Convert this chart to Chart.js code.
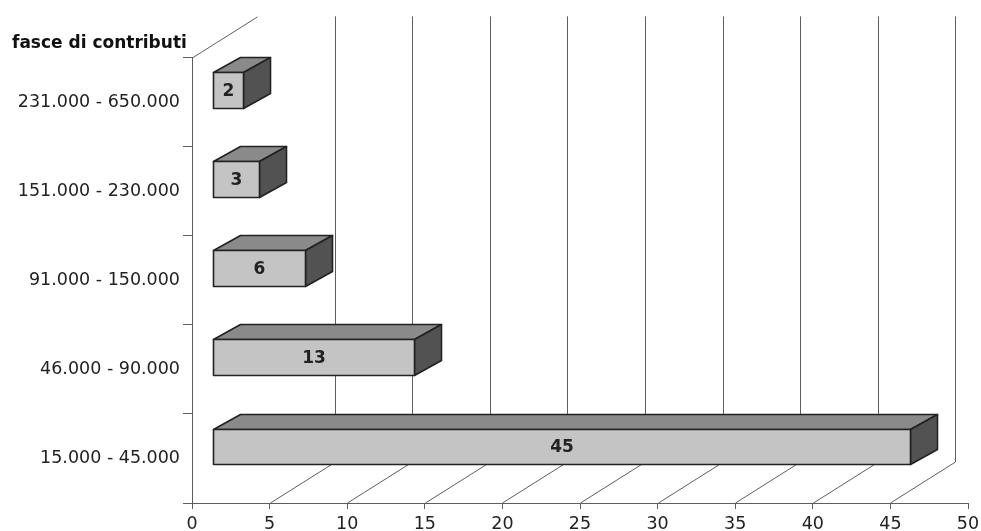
<!DOCTYPE html>
<html><head><meta charset="utf-8">
<script src="https://cdn.jsdelivr.net/npm/chart.js@4.4.1/dist/chart.umd.min.js"></script>
<style>html,body{margin:0;padding:0;background:#fff}</style>
</head><body>
<canvas id="c" width="981" height="531"></canvas>
<script>
// ---- data ----
const categories = ['231.000 - 650.000', '151.000 - 230.000', '91.000 - 150.000', '46.000 - 90.000', '15.000 - 45.000'];
const values = [2, 3, 6, 13, 45];
const xMin = 0, xMax = 50, xStep = 5;
const axisTitle = 'fasce di contributi';

// ---- 3D look ----
const WALL_DX = 65, WALL_DY = 41;      // depth of the floor / wall
const BAR_OFF_X = 20, BAR_OFF_Y = 12;  // where the bar front face sits in depth
const BAR_DX = 27, BAR_DY = 15;        // bar depth
const FRONT = '#c4c4c4', TOP = '#8a8a8a', SIDE = '#525252', EDGE = '#222222';
const GRID = '#5e5e5e';
const FONT = 'DejaVu Sans, Verdana, sans-serif';

const threeD = {
  id: 'threeD',
  beforeDatasetsDraw(chart) {
    const ctx = chart.ctx, xs = chart.scales.x, a = chart.chartArea;
    ctx.save();
    ctx.strokeStyle = GRID; ctx.lineWidth = 1;
    // left wall top edge
    ctx.beginPath();
    ctx.moveTo(a.left + 0.5, a.top + 0.5);
    ctx.lineTo(a.left + WALL_DX + 0.5, a.top - WALL_DY + 0.5);
    ctx.stroke();
    for (let v = xMin + xStep; v < xMax; v += xStep) {
      const x = Math.round(xs.getPixelForValue(v)) + 0.5;
      ctx.beginPath();
      // floor line
      ctx.moveTo(x, a.bottom);
      ctx.lineTo(x + WALL_DX, a.bottom - WALL_DY);
      // back wall line
      ctx.lineTo(x + WALL_DX, a.top - WALL_DY);
      ctx.stroke();
    }
    ctx.restore();
  },
  afterDatasetsDraw(chart) {
    const ctx = chart.ctx;
    const meta = chart.getDatasetMeta(0);
    ctx.save();
    ctx.lineWidth = 1.6; ctx.strokeStyle = EDGE; ctx.lineJoin = 'round';
    meta.data.forEach((bar, i) => {
      const p = bar.getProps(['x', 'y', 'base', 'height'], true);
      const x0 = Math.round(p.base + BAR_OFF_X) + 0.5;
      const x1 = Math.round(p.x + BAR_OFF_X) + 0.5;
      const y0 = Math.round(p.y - BAR_OFF_Y - p.height / 2) + 0.5;
      const y1 = Math.round(p.y - BAR_OFF_Y + p.height / 2) + 0.5;
      // top face
      ctx.beginPath();
      ctx.moveTo(x0, y0); ctx.lineTo(x0 + BAR_DX, y0 - BAR_DY);
      ctx.lineTo(x1 + BAR_DX, y0 - BAR_DY); ctx.lineTo(x1, y0); ctx.closePath();
      ctx.fillStyle = TOP; ctx.fill(); ctx.stroke();
      // side face
      ctx.beginPath();
      ctx.moveTo(x1, y0); ctx.lineTo(x1 + BAR_DX, y0 - BAR_DY);
      ctx.lineTo(x1 + BAR_DX, y1 - BAR_DY); ctx.lineTo(x1, y1); ctx.closePath();
      ctx.fillStyle = SIDE; ctx.fill(); ctx.stroke();
      // front face
      ctx.beginPath();
      ctx.rect(x0, y0, x1 - x0, y1 - y0);
      ctx.fillStyle = FRONT; ctx.fill(); ctx.stroke();
      // value label
      ctx.fillStyle = '#222';
      ctx.font = 'bold 17px ' + FONT;
      ctx.textAlign = 'center'; ctx.textBaseline = 'middle';
      ctx.fillText(String(values[i]), (x0 + x1) / 2, (y0 + y1) / 2 + 1);
    });
    ctx.restore();
  }
};

new Chart(document.getElementById('c'), {
  type: 'bar',
  data: {
    labels: categories,
    datasets: [{
      data: values,
      backgroundColor: 'rgba(0,0,0,0)',
      borderWidth: 0,
      barPercentage: 0.4,
      categoryPercentage: 1.0
    }]
  },
  options: {
    indexAxis: 'y',
    responsive: false,
    animation: false,
    devicePixelRatio: 1,
    layout: { padding: { left: 12, right: 13, top: 0, bottom: 0 } },
    plugins: {
      legend: { display: false },
      tooltip: { enabled: false },
      title: {
        display: true, text: axisTitle, align: 'start', color: '#111',
        font: { family: FONT, size: 17, weight: 'bold' },
        padding: { top: 33, bottom: 4 }
      }
    },
    scales: {
      x: {
        type: 'linear', min: xMin, max: xMax,
        ticks: { stepSize: xStep, color: '#222', font: { family: FONT, size: 17.5 }, padding: 5 },
        grid: { drawOnChartArea: false, drawTicks: true, tickLength: 6, color: GRID },
        border: { color: GRID },
        afterFit(s) { s.height = 28; s.paddingLeft = 0; s.paddingRight = 0; }
      },
      y: {
        type: 'category',
        ticks: { color: '#222', font: { family: FONT, size: 17.5 }, padding: 3 },
        grid: { drawOnChartArea: false, drawTicks: true, tickLength: 9, color: GRID, offset: true },
        border: { color: GRID },
        afterFit(s) { s.width = 180; s.paddingTop = 0; s.paddingBottom = 0; }
      }
    }
  },
  plugins: [threeD]
});
</script>
</body></html>
